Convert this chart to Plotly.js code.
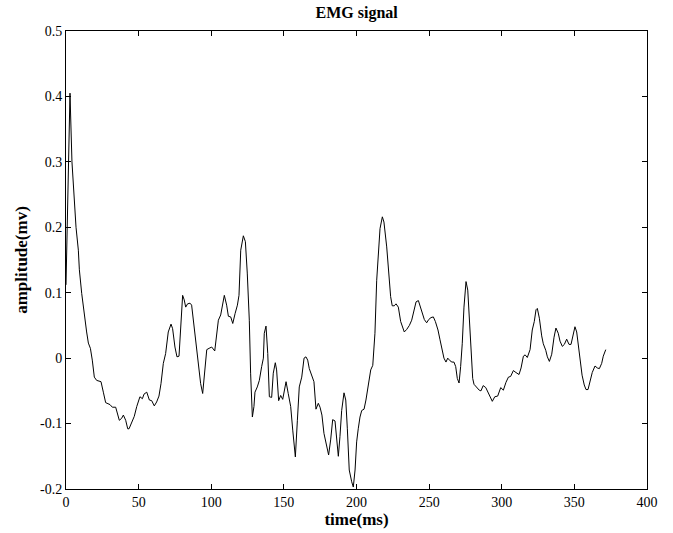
<!DOCTYPE html>
<html>
<head>
<meta charset="utf-8">
<script src="https://cdn.plot.ly/plotly-3.0.1.min.js"></script>
<style>
  html, body { margin: 0; padding: 0; background: #fff; }
  #chart { width: 673px; height: 533px; }
</style>
</head>
<body>
<div id="chart"></div>
<script>
// Sample times (ms) of the EMG trace
const timeMs = [
  0, 2.75, 4.1, 6.9, 8.5, 9.2, 10.8, 12.6, 14.2, 15.4, 16.8, 18.1, 19.5, 21.1, 24.1, 25.7, 27.3,
  30.3, 31.9, 34.2, 36, 36.7, 38.3, 39.5, 41.1, 42.5, 43.4, 45.2, 47, 48.7, 50.9, 52.6, 53.7,
  55.6, 57.4, 59, 60.8, 62.4, 64, 65.4, 67, 68.6, 70.4, 72.3, 73.4, 75, 76.4, 77.8, 79, 80.3,
  81.4, 82.4, 83.7, 85.4, 86.5, 87.7, 89.3, 91.1, 92.7, 94.1, 95.2, 96.9, 98.5, 100.3, 102.4,
  104.9, 106.5, 109, 110.6, 111.8, 113.4, 114.8, 116.4, 118, 119.1, 120.3, 122.1, 123.5, 124.8,
  126.2, 127.1, 128.3, 129.4, 130.1, 131.7, 133.1, 134.7, 135.9, 136.5, 137.7, 138.9, 140,
  141.6, 142.7, 144.1, 145, 146.4, 147.8, 149.2, 150.1, 151.5, 153, 154.7, 156.1, 157.9, 159.3,
  160.6, 162.3, 163.9, 165.2, 166.4, 167.5, 169.2, 170.7, 172.1, 173.7, 174.9, 176.2, 177.6,
  179.5, 180.8, 182.2, 183.6, 185.2, 186.4, 187.5, 188.6, 189.8, 191.4, 192.6, 193.7, 195,
  196.7, 197.8, 199, 200.1, 201.2, 202.4, 203.6, 205.2, 206.5, 208.1, 209.8, 211.2, 212.7,
  213.9, 215, 216.2, 217.8, 218.9, 220.8, 222.4, 223.5, 224.6, 226, 227.2, 228.8, 230.4, 231.8,
  232.9, 234.6, 236.4, 238, 239.6, 241, 242.6, 244.2, 245.6, 246.7, 248.3, 249.7, 251.3, 252.9,
  254.3, 256.1, 257.5, 258.7, 260.2, 261.6, 262.8, 264.4, 265.7, 267.1, 268.3, 269.4, 270.6,
  271.7, 272.8, 274, 275.4, 276.6, 277.7, 278.8, 280, 280.9, 282.7, 284.5, 285.7, 287.2, 289,
  291.4, 293.5, 295.2, 297.2, 299.3, 301.1, 302.9, 304.6, 306.1, 308, 309.8, 311.9, 313.3,
  314.9, 316.1, 317.6, 319.5, 321, 322.4, 323.6, 324.5, 325.9, 327.5, 328.6, 330.3, 331.4,
  332.8, 334.4, 336, 337.3, 338.9, 340.1, 341.7, 343.1, 344.7, 346.3, 347.7, 349.3, 350.4,
  351.6, 352.7, 353.9, 355.3, 356.8, 358, 359.4, 360.7, 362.3, 364.2, 365.8, 367.2, 368.8,
  369.9, 371.6
];

// Amplitude (mV) at each sample time
const amplitudeMv = [
  0.112, 0.405, 0.300, 0.200, 0.165, 0.135, 0.099, 0.063, 0.040, 0.023, 0.015, -0.003, -0.029,
  -0.034, -0.036, -0.052, -0.068, -0.071, -0.075, -0.075, -0.089, -0.095, -0.092, -0.087,
  -0.095, -0.108, -0.108, -0.097, -0.089, -0.074, -0.059, -0.062, -0.055, -0.052, -0.064,
  -0.065, -0.073, -0.067, -0.058, -0.039, -0.008, 0.007, 0.040, 0.052, 0.045, 0.017, 0.002,
  0.003, 0.048, 0.096, 0.089, 0.078, 0.083, 0.084, 0.081, 0.058, 0.028, -0.013, -0.039,
  -0.054, -0.023, 0.013, 0.015, 0.017, 0.011, 0.058, 0.066, 0.096, 0.081, 0.064, 0.063,
  0.053, 0.068, 0.081, 0.096, 0.165, 0.187, 0.178, 0.130, 0.058, -0.023, -0.090, -0.074,
  -0.052, -0.044, -0.034, -0.013, 0.000, 0.038, 0.049, 0.007, -0.059, -0.060, -0.023, -0.007,
  -0.018, -0.065, -0.057, -0.063, -0.052, -0.036, -0.054, -0.074, -0.110, -0.151, -0.095,
  -0.044, -0.029, 0.000, 0.002, -0.003, -0.016, -0.026, -0.036, -0.078, -0.069, -0.075,
  -0.087, -0.115, -0.133, -0.148, -0.125, -0.094, -0.096, -0.120, -0.150, -0.120, -0.080,
  -0.053, -0.064, -0.108, -0.171, -0.189, -0.197, -0.171, -0.128, -0.108, -0.090, -0.080,
  -0.078, -0.064, -0.041, -0.018, -0.011, 0.038, 0.119, 0.155, 0.198, 0.216, 0.208, 0.170,
  0.119, 0.094, 0.080, 0.080, 0.083, 0.078, 0.056, 0.045, 0.040, 0.044, 0.050, 0.058, 0.076,
  0.086, 0.088, 0.078, 0.066, 0.059, 0.054, 0.059, 0.062, 0.063, 0.056, 0.043, 0.028, 0.015,
  0.000, -0.006, 0.000, -0.004, -0.006, -0.006, -0.013, -0.031, -0.038, -0.013, 0.022, 0.078,
  0.117, 0.104, 0.058, 0.017, -0.031, -0.040, -0.045, -0.049, -0.050, -0.042, -0.045, -0.057,
  -0.066, -0.059, -0.058, -0.045, -0.049, -0.037, -0.029, -0.028, -0.019, -0.022, -0.025,
  -0.015, 0.003, 0.005, 0.001, 0.013, 0.043, 0.056, 0.074, 0.076, 0.061, 0.034, 0.022, 0.012,
  0.002, -0.005, 0.006, 0.032, 0.046, 0.038, 0.026, 0.018, 0.021, 0.029, 0.021, 0.021, 0.035,
  0.048, 0.040, 0.020, 0.002, -0.026, -0.041, -0.048, -0.048, -0.035, -0.022, -0.012, -0.015,
  -0.016, -0.008, 0.003, 0.013
];

// Axis ticks
const xTicks = [0, 50, 100, 150, 200, 250, 300, 350, 400];
const yTicks = [-0.2, -0.1, 0, 0.1, 0.2, 0.3, 0.4, 0.5];
const yTickLabels = ['-0.2', '-0.1', '0', '0.1', '0.2', '0.3', '0.4', '0.5'];

const serif = '"Liberation Serif", "Times New Roman", serif';

const trace = {
  x: timeMs,
  y: amplitudeMv,
  type: 'scatter',
  mode: 'lines',
  line: { color: '#000', width: 1 },
  hoverinfo: 'x+y'
};

const axisCommon = {
  showline: true,
  linecolor: '#000',
  linewidth: 1,
  mirror: 'ticks',
  ticks: 'inside',
  ticklen: 5,
  tickwidth: 1,
  tickcolor: '#000',
  showgrid: false,
  zeroline: false,
  tickfont: { family: serif, size: 14, color: '#000' }
};

const layout = {
  width: 673,
  height: 533,
  margin: { l: 66, r: 26, t: 31, b: 44 },
  paper_bgcolor: '#fff',
  plot_bgcolor: '#fff',
  showlegend: false,
  title: {
    text: '<b>EMG signal</b>',
    font: { family: serif, size: 16, color: '#000' },
    x: 0.53, xanchor: 'center',
    y: 0.977, yanchor: 'middle'
  },
  xaxis: Object.assign({}, axisCommon, {
    range: [0, 400],
    tickvals: xTicks,
    ticktext: xTicks.map(String),
    title: { text: '<b>time(ms)</b>', font: { family: serif, size: 17, color: '#000' }, standoff: 2 }
  }),
  yaxis: Object.assign({}, axisCommon, {
    range: [-0.2, 0.5],
    tickvals: yTicks,
    ticktext: yTickLabels,
    title: { text: '<b>amplitude(mv)</b>', font: { family: serif, size: 17, color: '#000' }, standoff: 8 }
  })
};

Plotly.newPlot('chart', [trace], layout, { displayModeBar: false, staticPlot: true });
</script>
</body>
</html>
